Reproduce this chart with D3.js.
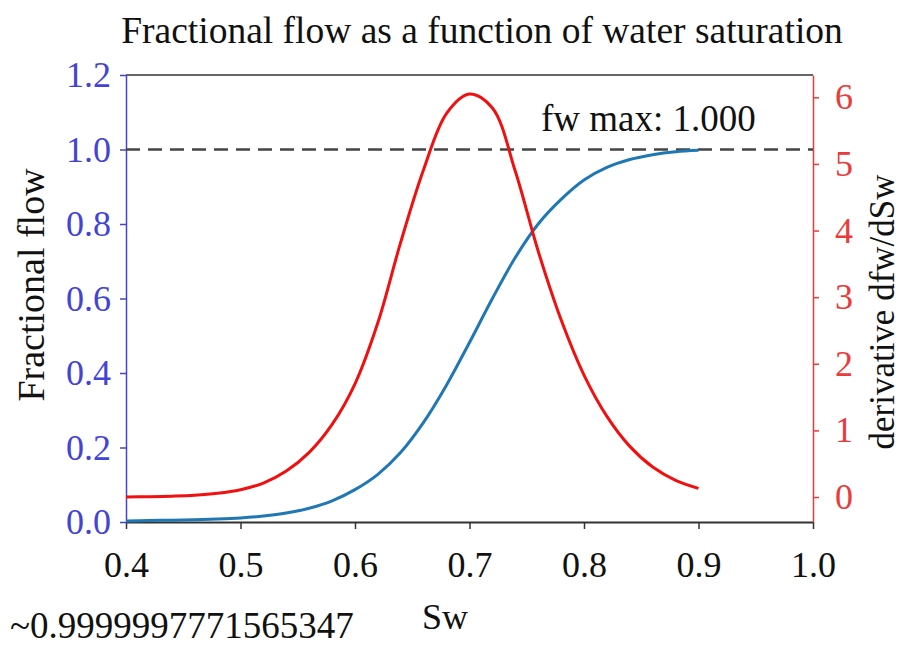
<!DOCTYPE html>
<html>
<head>
<meta charset="utf-8">
<script src="https://cdn.jsdelivr.net/npm/d3@7"></script>
<style>
  body { margin: 0; background: #fff; }
  text { font-family: "Liberation Serif", "Times New Roman", serif; }
</style>
</head>
<body>
<div class="graph-fw"></div>
<script>
// Saturation en eau (Sw)
const sw = [0.40, 0.42, 0.44, 0.46, 0.48, 0.50, 0.52, 0.54, 0.56, 0.58, 0.60, 0.62, 0.64,
            0.66, 0.68, 0.70, 0.72, 0.74, 0.76, 0.78, 0.80, 0.82, 0.84, 0.86, 0.88, 0.90];

// Débit fractionnaire fw
const fw = [0.003, 0.004, 0.005, 0.006, 0.008, 0.011, 0.016, 0.024, 0.037, 0.057, 0.087, 0.128, 0.187,
            0.268, 0.368, 0.482, 0.600, 0.710, 0.800, 0.866, 0.918, 0.952, 0.973, 0.986, 0.994, 0.998];

// Dérivée dfw/dSw
const dfw = [0.0, 0.005, 0.012, 0.025, 0.055, 0.11, 0.21, 0.39, 0.67, 1.09, 1.70, 2.62, 3.83,
             4.92, 5.76, 6.05, 5.84, 4.89, 3.69, 2.66, 1.83, 1.21, 0.76, 0.45, 0.25, 0.13];

const fwMax = 1.0;
const note = "~0.9999997771565347";

const xTicks = [0.4, 0.5, 0.6, 0.7, 0.8, 0.9, 1.0];
const fwTicks = [0.0, 0.2, 0.4, 0.6, 0.8, 1.0, 1.2];
const dTicks = [0, 1, 2, 3, 4, 5, 6];

const tableau = sw.map((s, i) => ({ sw: s, fw: fw[i], dfw: dfw[i] }));

// Marges et canevas
let margin = { top: 75, right: 89, bottom: 128, left: 126 };
let width = 902 - margin.left - margin.right,
    height = 650 - margin.top - margin.bottom;

const blue = "#4343d6", red = "#ea3b3b";
const fs = "36px";

let root = d3.select(".graph-fw")
    .append("svg")
    .attr("width", 902)
    .attr("height", 650);

let svg = root.append("g")
    .attr("transform", "translate(" + margin.left + "," + margin.top + ")");

// Échelles
let x = d3.scaleLinear().domain([0.4, 1.0]).range([0, width]);
let y = d3.scaleLinear().domain([0, 1.2]).range([height, 0]);
let y2 = d3.scaleLinear().domain([-0.375, 6.335]).range([height, 0]);

// Cadre haut
svg.append("line")
    .attr("x1", 0).attr("x2", width)
    .attr("y1", 0).attr("y2", 0)
    .attr("stroke", "#333").attr("stroke-width", 1.5);

// Axe X
let ax = svg.append("g")
    .attr("transform", "translate(0," + height + ")")
    .call(d3.axisBottom(x).tickValues(xTicks).tickFormat(d3.format(".1f")).tickSize(7).tickSizeOuter(0));
ax.select(".domain").attr("stroke", "#333").attr("stroke-width", 2);
ax.selectAll(".tick line").attr("stroke", "#333").attr("stroke-width", 1.5);
ax.selectAll("text")
    .attr("y", 29)
    .attr("dy", "0.71em")
    .style("font-size", fs)
    .style("fill", "#111");

// Axe Y gauche (fw)
let ay = svg.append("g")
    .call(d3.axisLeft(y).tickValues(fwTicks).tickFormat(d3.format(".1f")).tickSize(6).tickSizeOuter(0));
ay.select(".domain").attr("stroke", blue).attr("stroke-width", 1.5);
ay.selectAll(".tick line").attr("stroke", blue).attr("stroke-width", 1.5);
ay.selectAll("text")
    .attr("x", -15)
    .style("font-size", fs)
    .style("fill", blue);

// Axe Y droit (dérivée)
let ay2 = svg.append("g")
    .attr("transform", "translate(" + width + ",0)")
    .call(d3.axisRight(y2).tickValues(dTicks).tickFormat(d3.format("d")).tickSize(6).tickSizeOuter(0));
ay2.select(".domain").attr("stroke", red).attr("stroke-width", 1.5);
ay2.selectAll(".tick line").attr("stroke", red).attr("stroke-width", 1.5);
ay2.selectAll("text")
    .attr("x", 22)
    .style("font-size", fs)
    .style("fill", red);

// Ligne fw max
svg.append("line")
    .attr("x1", x(0.4)).attr("x2", x(1.0))
    .attr("y1", y(fwMax)).attr("y2", y(fwMax))
    .attr("stroke", "#444")
    .attr("stroke-width", 2.5)
    .attr("stroke-dasharray", "14,8");

// Courbes
svg.append("path")
    .datum(tableau)
    .attr("fill", "none")
    .attr("stroke", "#1f77b4")
    .attr("stroke-width", 3)
    .attr("d", d3.line().x(d => x(d.sw)).y(d => y(d.fw)).curve(d3.curveCatmullRom.alpha(0.5)));

svg.append("path")
    .datum(tableau)
    .attr("fill", "none")
    .attr("stroke", "#f01010")
    .attr("stroke-width", 3)
    .attr("d", d3.line().x(d => x(d.sw)).y(d => y2(d.dfw)).curve(d3.curveCatmullRom.alpha(0.5)));

// Annotation
svg.append("text")
    .text("fw max: " + d3.format(".3f")(fwMax))
    .attr("x", 415)
    .attr("y", 56)
    .style("font-size", "37px")
    .style("fill", "#111");

// Titres
root.append("text")
    .text("Fractional flow as a function of water saturation")
    .attr("text-anchor", "middle")
    .attr("x", 482)
    .attr("y", 43)
    .style("font-size", "37.5px")
    .style("fill", "#111");

root.append("text")
    .text("Sw")
    .attr("text-anchor", "middle")
    .attr("x", 445)
    .attr("y", 629)
    .style("font-size", fs)
    .style("fill", "#111");

root.append("text")
    .text("Fractional flow")
    .attr("text-anchor", "middle")
    .attr("transform", "translate(44,285) rotate(-90)")
    .style("font-size", "38px")
    .style("fill", "#111");

root.append("text")
    .text("derivative dfw/dSw")
    .attr("text-anchor", "middle")
    .attr("transform", "translate(894,312) rotate(-90)")
    .style("font-size", "35px")
    .style("fill", "#111");

root.append("text")
    .text(note)
    .attr("x", 10)
    .attr("y", 638)
    .style("font-size", "37px")
    .style("fill", "#111");
</script>
</body>
</html>
